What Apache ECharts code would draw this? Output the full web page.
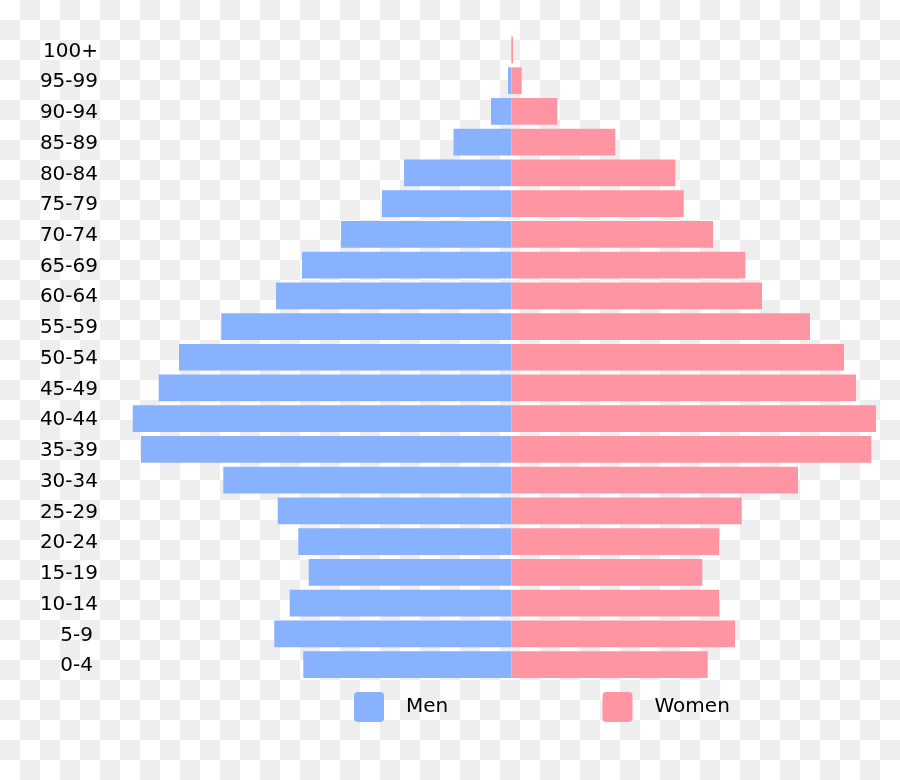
<!DOCTYPE html>
<html>
<head>
<meta charset="utf-8">
<style>
html,body{margin:0;padding:0;}
body{width:900px;height:780px;background-color:#fff;
background-image:conic-gradient(#eeeeee 25%, #ffffff 0 50%, #eeeeee 0 75%, #ffffff 0);
background-size:40px 40px;}
#chart{width:900px;height:780px;}
</style>
<script src="https://cdn.jsdelivr.net/npm/echarts@6/dist/echarts.min.js"></script>
</head>
<body>
<div id="chart"></div>
<script>
// Age groups, bottom to top
const ageGroups = ['0-4','5-9','10-14','15-19','20-24','25-29','30-34','35-39','40-44','45-49','50-54','55-59','60-64','65-69','70-74','75-79','80-84','85-89','90-94','95-99','100+'];
// Values (arbitrary units)
const menValues   = [208.2,237.2,221.8,202.8,213.2,233.8,288.2,370.5,378.8,352.8,332.5,290.2,235.5,209.5,170.5,129.5,107.5,58.0,20.5,3.5,0.3];
const womenValues = [196.2,223.5,207.8,190.8,207.8,230.2,286.5,359.8,364.5,344.5,332.5,298.5,250.5,233.8,201.5,172.2,163.8,103.8,45.8,10.2,1.5];
const seriesNames = ['Men','Women'];
const colors = ['#88b2fe','#ff95a3'];

const chart = echarts.init(document.getElementById('chart'), null, {renderer:'canvas'});
const iconPath = 'path://M4,0H26A4,4 0 0 1 30,4V26A4,4 0 0 1 26,30H4A4,4 0 0 1 0,26V4A4,4 0 0 1 4,0Z';
const legendText = {fontFamily:'DejaVu Sans', fontSize:20, color:'#000', padding:[11,0,0,17]};
chart.setOption({
  backgroundColor:'transparent',
  animation:false,
  color:colors,
  legend:[
    {data:[seriesNames[0]], left:354, top:692, padding:0, itemWidth:30, itemHeight:30, icon:iconPath, textStyle:legendText, selectedMode:false},
    {data:[seriesNames[1]], left:602.5, top:692, padding:0, itemWidth:30, itemHeight:30, icon:iconPath, textStyle:legendText, selectedMode:false}
  ],
  grid:{left:131.5, right:8.5, top:34.6, bottom:100.1, containLabel:false},
  xAxis:{type:'value', min:-380, max:380, show:false},
  yAxis:{type:'category', data:ageGroups,
    axisLine:{show:false, onZero:false}, axisTick:{show:false}, splitLine:{show:false},
    axisLabel:{margin:33.5, fontFamily:'DejaVu Sans', fontSize:20, color:'#000', lineHeight:22, padding:[3,0,0,0],
      formatter:function(v){ return v.length<=3 ? '{s|'+v+'}' : v; },
      rich:{s:{fontFamily:'DejaVu Sans', fontSize:20, color:'#000', padding:[0,5,0,0]}}}
  },
  series:[
    {name:seriesNames[0], type:'bar', stack:'pop', barCategoryGap:'13%',
     data:menValues.map(v=>-v), itemStyle:{color:colors[0]}},
    {name:seriesNames[1], type:'bar', stack:'pop', barCategoryGap:'13%',
     data:womenValues, itemStyle:{color:colors[1]}}
  ]
});
</script>
</body>
</html>
